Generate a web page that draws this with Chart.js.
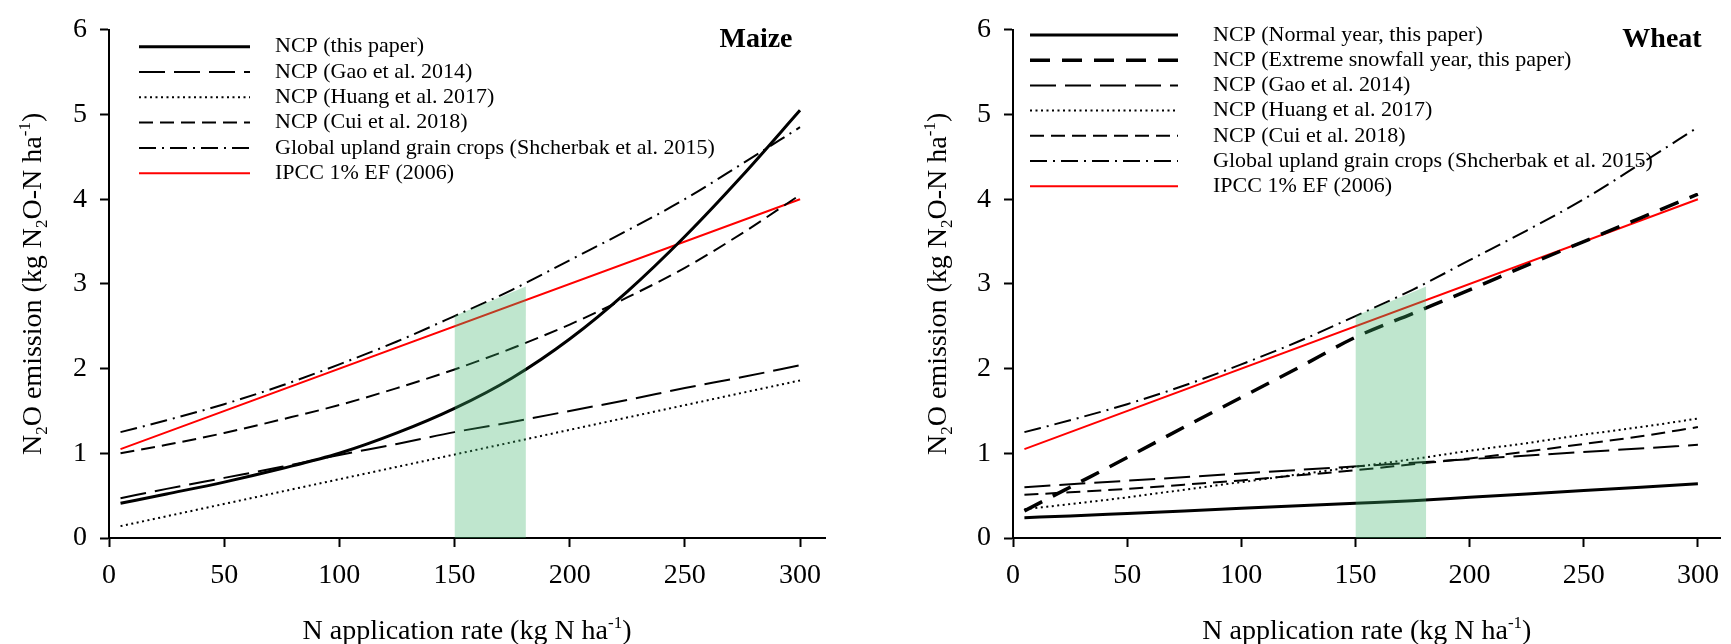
<!DOCTYPE html>
<html>
<head>
<meta charset="utf-8">
<script src="https://cdn.jsdelivr.net/npm/chart.js@4.4.1/dist/chart.umd.min.js"></script>
<style>
  body { margin: 0; background: #fff; }
  canvas { position: absolute; top: 0; }
</style>
</head>
<body>
<canvas id="maize" width="866" height="644" style="left:0"></canvas>
<canvas id="wheat" width="865" height="644" style="left:866px"></canvas>
<script>
const curveN = [5, 25, 50, 75, 100, 125, 150, 175, 200, 225, 250, 275, 300];
const endN = [5, 300];
const bandN = [150, 181];
const xTicks = [0, 50, 100, 150, 200, 250, 300];
const yTicks = [0, 1, 2, 3, 4, 5, 6];

// shared lines
const shcherbak = [1.25, 1.39, 1.58, 1.8, 2.05, 2.32, 2.62, 2.93, 3.28, 3.63, 4.0, 4.42, 4.85];
const ipcc = [1.05, 4.0];
const bandTop = [2.62, 2.97];

// maize
const maizeThisPaper = [0.41, 0.52, 0.66, 0.82, 1.0, 1.24, 1.53, 1.89, 2.35, 2.91, 3.56, 4.28, 5.05];
const maizeGao = [0.47, 0.58, 0.71, 0.84, 0.98, 1.11, 1.25, 1.37, 1.5, 1.63, 1.77, 1.9, 2.04];
const maizeHuang = [0.14, 1.86];
const maizeCui = [1.0, 1.1, 1.24, 1.4, 1.57, 1.77, 1.99, 2.24, 2.52, 2.84, 3.19, 3.6, 4.05];

// wheat
const wheatNormal = [0.24, 0.26, 0.29, 0.32, 0.35, 0.38, 0.41, 0.44, 0.48, 0.52, 0.56, 0.6, 0.64];
const wheatSnow = [0.32, 0.6, 0.95, 1.31, 1.66, 2.01, 2.37, 2.65, 2.93, 3.22, 3.5, 3.78, 4.06];
const wheatGao = [0.6, 1.1];
const wheatHuang = [0.34, 0.4, 0.48, 0.57, 0.66, 0.75, 0.84, 0.93, 1.03, 1.12, 1.22, 1.31, 1.41];
const wheatCui = [0.51, 0.54, 0.58, 0.63, 0.68, 0.74, 0.8, 0.87, 0.94, 1.02, 1.11, 1.2, 1.31];

const FONT = '"Liberation Serif", "Times New Roman", serif';

const pts = (xs, ys) => xs.map((x, i) => ({ x: x, y: ys[i] }));

function line(label, xs, ys, width, dash, color) {
    return {
        label: label,
        data: pts(xs, ys),
        borderColor: color || '#000000',
        borderWidth: width,
        borderDash: dash,
        pointRadius: 0,
        fill: false,
        cubicInterpolationMode: 'monotone'
    };
}

function band() {
    return {
        label: '',
        data: pts(bandN, bandTop),
        borderColor: 'rgba(0,0,0,0)',
        borderWidth: 1,
        backgroundColor: 'rgba(60, 180, 105, 0.33)',
        fill: 'origin',
        pointRadius: 0,
        tension: 0,
        order: -1
    };
}

// text with sub/superscripts, centred on (0,0) baseline
function drawRich(ctx, parts, size) {
    const big = size + 'px ' + FONT;
    const small = Math.round(size * 0.62) + 'px ' + FONT;
    let w = 0;
    parts.forEach(p => {
        ctx.font = p[1] ? small : big;
        w += ctx.measureText(p[0]).width;
    });
    let x = -w / 2;
    parts.forEach(p => {
        ctx.font = p[1] ? small : big;
        const dy = p[1] === 'sub' ? size * 0.2 : p[1] === 'sup' ? -size * 0.4 : 0;
        ctx.fillText(p[0], x, dy);
        x += ctx.measureText(p[0]).width;
    });
}

const yTitle = [['N'], ['2', 'sub'], ['O emission (kg N'], ['2', 'sub'], ['O-N ha'], ['-1', 'sup'], [')']];
const xTitle = [['N application rate (kg N ha'], ['-1', 'sup'], [')']];

const decor = {
    id: 'decor',
    afterDraw(chart, args, o) {
        const ctx = chart.ctx;
        ctx.save();
        ctx.fillStyle = '#000';
        ctx.textAlign = 'left';

        // legend
        ctx.textBaseline = 'middle';
        let row = 0;
        chart.data.datasets.forEach(ds => {
            if (!ds.label) return;
            const y = o.legendTop + row * o.legendStep;
            ctx.beginPath();
            ctx.setLineDash(ds.borderDash || []);
            ctx.lineWidth = ds.borderWidth;
            ctx.strokeStyle = ds.borderColor;
            ctx.moveTo(o.sampleX[0], y);
            ctx.lineTo(o.sampleX[1], y);
            ctx.stroke();
            ctx.font = o.legendSize + 'px ' + FONT;
            ctx.fillText(ds.label, o.textX, y);
            row++;
        });
        ctx.setLineDash([]);

        // panel name
        ctx.font = 'bold 28px ' + FONT;
        ctx.textAlign = 'center';
        ctx.fillText(o.panel, o.panelX, o.panelY);

        // axis titles
        ctx.textAlign = 'left';
        ctx.textBaseline = 'alphabetic';
        const area = chart.chartArea;
        ctx.save();
        ctx.translate(o.yTitleX, (area.top + area.bottom) / 2);
        ctx.rotate(-Math.PI / 2);
        drawRich(ctx, yTitle, 28);
        ctx.restore();

        ctx.save();
        ctx.translate((area.left + area.right) / 2, o.xTitleY);
        drawRich(ctx, xTitle, 28);
        ctx.restore();

        ctx.restore();
    }
};

function makeChart(id, datasets, s) {
    const axisBits = {
        grid: { display: true, drawOnChartArea: false, drawTicks: true, tickLength: 9, tickWidth: 2, tickColor: '#000' },
        border: { display: true, color: '#000', width: 2 }
    };
    return new Chart(document.getElementById(id), {
        type: 'line',
        data: { datasets: datasets },
        options: {
            responsive: false,
            animation: false,
            devicePixelRatio: 1,
            layout: { padding: { left: 0, top: 21, right: s.padRight, bottom: 0 } },
            plugins: {
                legend: { display: false },
                tooltip: { enabled: false },
                decor: s.decor
            },
            scales: {
                x: Object.assign({
                    type: 'linear',
                    min: 0,
                    max: s.xMax,
                    afterBuildTicks: sc => { sc.ticks = xTicks.map(v => ({ value: v })); },
                    afterFit: sc => { sc.height = 106; },
                    ticks: { color: '#000', font: { family: FONT, size: 28 }, padding: 12, maxRotation: 0 }
                }, axisBits),
                y: Object.assign({
                    type: 'linear',
                    min: 0,
                    max: 6,
                    afterBuildTicks: sc => { sc.ticks = yTicks.map(v => ({ value: v })); },
                    afterFit: sc => { sc.width = s.yWidth; },
                    ticks: { color: '#000', font: { family: FONT, size: 28 }, padding: 13 }
                }, axisBits)
            }
        },
        plugins: [decor]
    });
}

makeChart('maize', [
    line('NCP (this paper)', curveN, maizeThisPaper, 3, []),
    line('NCP (Gao et al. 2014)', curveN, maizeGao, 2, [26, 9]),
    line('NCP (Huang et al. 2017)', endN, maizeHuang, 2, [2, 3.5]),
    line('NCP (Cui et al. 2018)', curveN, maizeCui, 2, [14, 7]),
    line('Global upland grain crops (Shcherbak et al. 2015)', curveN, shcherbak, 2, [17, 6, 2, 6]),
    line('IPCC 1% EF (2006)', endN, ipcc, 2, [], '#ff0000'),
    band()
], {
    padRight: 41,
    xMax: 310.85,
    yWidth: 109,
    decor: {
        legendTop: 46.7, legendStep: 25.3, legendSize: 22,
        sampleX: [139, 250], textX: 275,
        panel: 'Maize', panelX: 756, panelY: 40,
        yTitleX: 41, xTitleY: 639
    }
});

makeChart('wheat', [
    line('NCP (Normal year, this paper)', curveN, wheatNormal, 3, []),
    line('NCP (Extreme snowfall year, this paper)', curveN, wheatSnow, 3.5, [20, 12]),
    line('NCP (Gao et al. 2014)', endN, wheatGao, 2, [26, 9]),
    line('NCP (Huang et al. 2017)', curveN, wheatHuang, 2, [2, 3.5]),
    line('NCP (Cui et al. 2018)', curveN, wheatCui, 2, [14, 7]),
    line('Global upland grain crops (Shcherbak et al. 2015)', curveN, shcherbak, 2, [17, 6, 2, 6]),
    line('IPCC 1% EF (2006)', endN, ipcc, 2, [], '#ff0000'),
    band()
], {
    padRight: 3,
    xMax: 310,
    yWidth: 147,
    decor: {
        legendTop: 35, legendStep: 25.2, legendSize: 22,
        sampleX: [164, 312], textX: 347,
        panel: 'Wheat', panelX: 796, panelY: 40,
        yTitleX: 80, xTitleY: 639
    }
});
</script>
</body>
</html>
